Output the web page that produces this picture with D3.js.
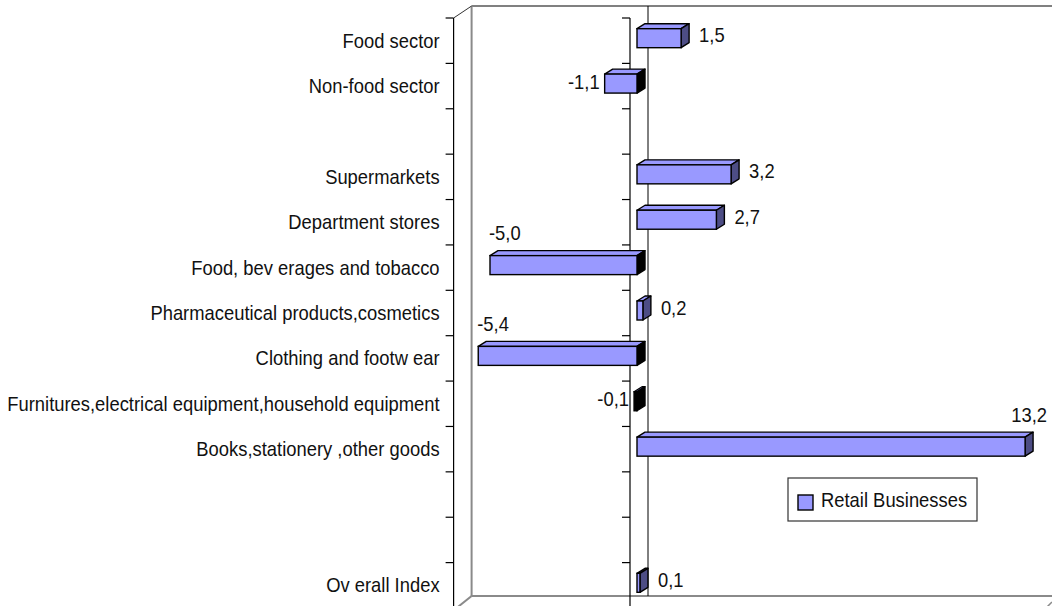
<!DOCTYPE html>
<html>
<head>
<meta charset="utf-8">
<script src="https://cdn.jsdelivr.net/npm/d3@7/dist/d3.min.js"></script>
<style>
  html, body { margin: 0; padding: 0; background: #fff; }
  svg { display: block; }
  text { font-family: "Liberation Sans", Arial, sans-serif; fill: #111; }
</style>
</head>
<body>
<svg id="chart" width="1052" height="606"></svg>
<script>
// ---- data ----
const categories = [
  "Food sector",
  "Non-food sector",
  "",
  "Supermarkets",
  "Department stores",
  "Food, bev erages and tobacco",
  "Pharmaceutical products,cosmetics",
  "Clothing and footw ear",
  "Furnitures,electrical equipment,household equipment",
  "Books,stationery ,other goods",
  "",
  "",
  "Ov erall Index"
];
const values = [1.5, -1.1, null, 3.2, 2.7, -5.0, 0.2, -5.4, -0.1, 13.2, null, null, 0.1];
const valueLabels = ["1,5", "-1,1", "", "3,2", "2,7", "-5,0", "0,2", "-5,4", "-0,1", "13,2", "", "", "0,1"];
const seriesName = "Retail Businesses";
const xDomain = [-6, 14];

// ---- layout ----
const W = 1052, H = 606;
const svg = d3.select("#chart");
const fontSize = 20;
const sx = 0.92; // horizontal condensing of text

function addText(parent, x, yPos, str, anchor) {
  const g = parent.append("g").attr("transform", `translate(${x},${yPos}) scale(${sx},1)`);
  const t = g.append("text").attr("font-size", fontSize).attr("text-anchor", anchor || "start").text(str);
  return { g, t };
}

// bar front-face x scale
const unit = 29.4;
const zeroBar = 637;
const xb = d3.scaleLinear().domain(xDomain).range([zeroBar + xDomain[0] * unit, zeroBar + xDomain[1] * unit]);
const frontOff = -7, backOff = 11;
const depthY = 12;
const xFront = v => xb(v) + frontOff;
const xBack = v => xb(v) + backOff;

const y = d3.scaleBand().domain(d3.range(categories.length)).range([18, 608]).paddingInner(0).paddingOuter(0);
const wallTop = 18 - depthY, wallBottom = 608 - depthY;

// walls
const gWall = svg.append("g");
gWall.append("line").attr("x1", xBack(xDomain[0])).attr("x2", W + 5).attr("y1", wallTop).attr("y2", wallTop)
  .attr("stroke", "#808080").attr("stroke-width", 2);
gWall.append("line").attr("x1", xBack(xDomain[0])).attr("x2", xBack(xDomain[0])).attr("y1", wallTop).attr("y2", wallBottom)
  .attr("stroke", "#8a8a8a").attr("stroke-width", 2);
gWall.append("line").attr("x1", xBack(xDomain[0])).attr("x2", W + 5).attr("y1", wallBottom).attr("y2", wallBottom)
  .attr("stroke", "#8a8a8a").attr("stroke-width", 2);
gWall.append("line").attr("x1", xFront(xDomain[0])).attr("y1", 18).attr("x2", xBack(xDomain[0])).attr("y2", wallTop)
  .attr("stroke", "#333").attr("stroke-width", 1);
gWall.append("line").attr("x1", xFront(xDomain[0]) + 3).attr("y1", 608).attr("x2", xBack(xDomain[0])).attr("y2", wallBottom)
  .attr("stroke", "#8a8a8a").attr("stroke-width", 2);
gWall.append("line").attr("x1", 1046).attr("y1", 608).attr("x2", 1052).attr("y2", 602)
  .attr("stroke", "#8a8a8a").attr("stroke-width", 1.5);
gWall.append("line").attr("x1", xBack(0)).attr("x2", xBack(0)).attr("y1", wallTop).attr("y2", wallBottom)
  .attr("stroke", "#000").attr("stroke-width", 1);

// front axes with ticks
const boundaries = d3.range(categories.length + 1).map(i => 18 + i * y.bandwidth());
[xFront(xDomain[0]), xFront(0)].forEach(ax => {
  const g = svg.append("g");
  g.append("line").attr("x1", ax).attr("x2", ax).attr("y1", 18).attr("y2", 610)
    .attr("stroke", "#000").attr("stroke-width", 1.2);
  g.selectAll("line.tick").data(boundaries).join("line").attr("class", "tick")
    .attr("x1", ax - 8).attr("x2", ax).attr("y1", d => d).attr("y2", d => d)
    .attr("stroke", "#000").attr("stroke-width", 1.2);
});

// category labels
const gCat = svg.append("g");
categories.forEach((c, i) => {
  if (c) addText(gCat, xFront(xDomain[0]) - 14, y(i) + y.bandwidth() / 2 + 7, c, "end");
});

// bars
const barH = 19, dx = 8, dyD = 5;
const faceCenter = i => y(i) + y.bandwidth() / 2 - 2.5;
const barData = values.map((v, i) => ({ v, i, label: valueLabels[i] })).filter(d => d.v !== null);
const gBars = svg.append("g");
barData.forEach(d => {
  const x0 = Math.min(xb(0), xb(d.v)), x1 = Math.max(xb(0), xb(d.v));
  const yt = faceCenter(d.i) - barH / 2, yb = yt + barH;
  const g = gBars.append("g");
  g.append("path").attr("d", `M${x0},${yt}L${x0 + dx},${yt - dyD}L${x1 + dx},${yt - dyD}L${x1},${yt}Z`)
    .attr("fill", "#9999ff").attr("stroke", "#000").attr("stroke-width", 1.4).attr("stroke-linejoin", "round");
  g.append("path").attr("d", `M${x1},${yt}L${x1 + dx},${yt - dyD}L${x1 + dx},${yb - dyD}L${x1},${yb}Z`)
    .attr("fill", d.v < 0 ? "#000" : "#4d4d85").attr("stroke", "#000").attr("stroke-width", 1.4).attr("stroke-linejoin", "round");
  g.append("rect").attr("x", x0).attr("y", yt).attr("width", x1 - x0).attr("height", barH)
    .attr("fill", d.v < 0 && (x1 - x0) < 5 ? "#000" : "#9999ff").attr("stroke", "#000").attr("stroke-width", 1.4);
});

// value labels
const gLab = svg.append("g");
barData.forEach(d => {
  const fc = faceCenter(d.i);
  const probe = addText(gLab, 0, 0, d.label, "start");
  const w = probe.t.node().getComputedTextLength() * sx;
  probe.g.remove();
  if (d.v >= 0) {
    const sideEnd = xb(d.v) + dx;
    if (sideEnd + 10 + w > W - 2) addText(gLab, sideEnd + 14, fc - 32 + 7, d.label, "end");
    else addText(gLab, sideEnd + 10, fc - 3 + 7, d.label, "start");
  } else {
    const left = xb(d.v);
    if (left - 5 - w < xBack(xDomain[0])) addText(gLab, left - 1, fc - 32 + 7, d.label, "start");
    else addText(gLab, left - 5, fc - 2 + 7, d.label, "end");
  }
});

// legend
const lg = svg.append("g").attr("transform", "translate(788,478)");
lg.append("rect").attr("width", 189).attr("height", 43).attr("fill", "#fff").attr("stroke", "#333").attr("stroke-width", 1.2);
lg.append("rect").attr("x", 10).attr("y", 17).attr("width", 15).attr("height", 15)
  .attr("fill", "#9999ff").attr("stroke", "#000").attr("stroke-width", 1.4);
addText(lg, 33, 29, seriesName, "start");
</script>
</body>
</html>
